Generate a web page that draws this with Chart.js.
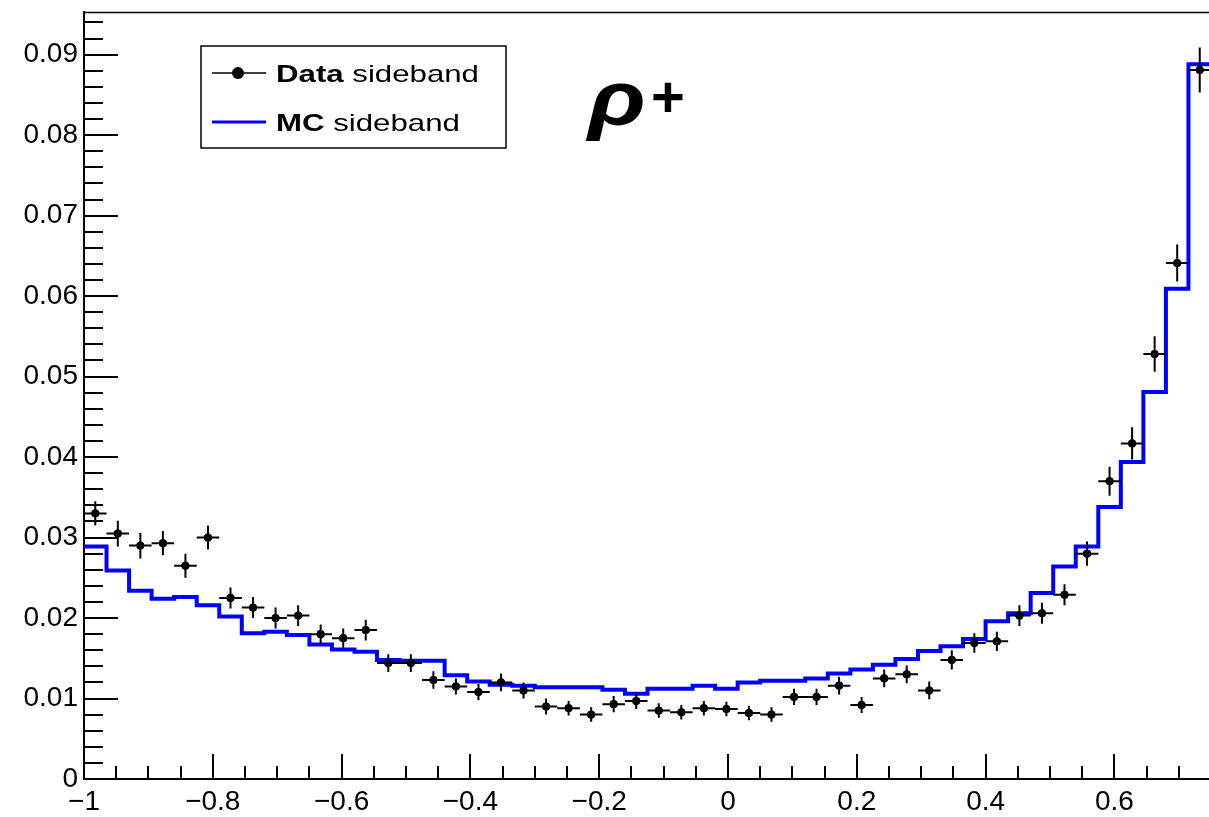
<!DOCTYPE html>
<html>
<head>
<meta charset="utf-8">
<title>rho+ sideband</title>
<script src="https://cdn.jsdelivr.net/npm/chart.js@4.4.0/dist/chart.umd.min.js"></script>
<style>
  html, body { margin: 0; padding: 0; background: #fff; overflow: hidden; }
</style>
</head>
<body>
<canvas id="myChart" width="1240" height="817"></canvas>
<script>
// bin edges (50 bins from -1 to 0.75)
const binEdges = [
  -1, -0.965, -0.93, -0.895, -0.86, -0.825, -0.79, -0.755, -0.72, -0.685,
  -0.65, -0.615, -0.58, -0.545, -0.51, -0.475, -0.44, -0.405, -0.37, -0.335,
  -0.3, -0.265, -0.23, -0.195, -0.16, -0.125, -0.09, -0.055, -0.02, 0.015,
  0.05, 0.085, 0.12, 0.155, 0.19, 0.225, 0.26, 0.295, 0.33, 0.365,
  0.4, 0.435, 0.47, 0.505, 0.54, 0.575, 0.61, 0.645, 0.68, 0.715, 0.75
];

// data sideband, per bin
const dataVals = [
  0.0330, 0.0305, 0.0290, 0.0293, 0.0265, 0.0300, 0.0225, 0.0213, 0.0200, 0.0203,
  0.0180, 0.0175, 0.0185, 0.0144, 0.0144, 0.0123, 0.0115, 0.0108, 0.0120, 0.0110,
  0.0090, 0.0088, 0.0080, 0.0093, 0.0097, 0.0085, 0.0083, 0.0088, 0.0087, 0.0082,
  0.0080, 0.0102, 0.0102, 0.0116, 0.0092, 0.0125, 0.0130, 0.0110, 0.0148, 0.0169,
  0.0171, 0.0203, 0.0206, 0.0229, 0.0280, 0.0370, 0.0417, 0.0528, 0.0641, 0.0881
];
const dataErrs = [
  0.0015, 0.0016, 0.0016, 0.0015, 0.0015, 0.0015, 0.0013, 0.0013, 0.0013, 0.0013,
  0.0012, 0.0012, 0.0013, 0.0011, 0.0011, 0.0011, 0.0010, 0.0010, 0.0011, 0.0010,
  0.0010, 0.0009, 0.0009, 0.0010, 0.0010, 0.0009, 0.0009, 0.0009, 0.0009, 0.0009,
  0.0009, 0.0010, 0.0010, 0.0011, 0.0010, 0.0011, 0.0011, 0.0011, 0.0012, 0.0012,
  0.0012, 0.0013, 0.0013, 0.0013, 0.0015, 0.0018, 0.0020, 0.0022, 0.0023, 0.0028
];

// MC sideband, per bin
const mcVals = [
  0.0289, 0.0259, 0.0234, 0.0224, 0.0226, 0.0216, 0.0202, 0.0181, 0.0183, 0.0179,
  0.0167, 0.0161, 0.0158, 0.0148, 0.0147, 0.0147, 0.0129, 0.0121, 0.0117, 0.0116,
  0.0114, 0.0114, 0.0114, 0.0111, 0.0106, 0.0112, 0.0112, 0.0116, 0.0112, 0.0120,
  0.0122, 0.0122, 0.0125, 0.0131, 0.0136, 0.0142, 0.0149, 0.0159, 0.0165, 0.0174,
  0.0196, 0.0206, 0.0231, 0.0264, 0.0289, 0.0338, 0.0394, 0.0481, 0.0609, 0.0888
];

const xTickValues = [-1, -0.8, -0.6, -0.4, -0.2, 0, 0.2, 0.4, 0.6];
const yTickValues = [0, 0.01, 0.02, 0.03, 0.04, 0.05, 0.06, 0.07, 0.08, 0.09];

const FONT = '"Liberation Sans", Arial, Helvetica, sans-serif';

function fmt(v) {
  if (v < 0) return '\u2212' + String(-v);
  return String(v);
}

// frame, inside ticks, error bars, legend and the rho+ label
const rootFrame = {
  id: 'rootFrame',
  afterDatasetsDraw(chart) {
    const ctx = chart.ctx;
    const area = chart.chartArea;
    const xs = chart.scales.x;
    const ys = chart.scales.y;
    ctx.save();

    // error bars
    ctx.strokeStyle = '#000';
    ctx.lineWidth = 2;
    ctx.beginPath();
    for (let i = 0; i < dataVals.length; i++) {
      const cx = xs.getPixelForValue((binEdges[i] + binEdges[i + 1]) / 2);
      const cy = ys.getPixelForValue(dataVals[i]);
      ctx.moveTo(xs.getPixelForValue(binEdges[i]), cy);
      ctx.lineTo(xs.getPixelForValue(binEdges[i + 1]), cy);
      ctx.moveTo(cx, ys.getPixelForValue(dataVals[i] - dataErrs[i]));
      ctx.lineTo(cx, ys.getPixelForValue(dataVals[i] + dataErrs[i]));
    }
    ctx.stroke();

    // top of the frame
    ctx.lineWidth = 1.5;
    ctx.beginPath();
    ctx.moveTo(area.left, area.top + 0.5);
    ctx.lineTo(area.right, area.top + 0.5);
    ctx.stroke();

    // ticks drawn inside the frame
    ctx.lineWidth = 2;
    ctx.beginPath();
    for (let k = 0; k <= 47; k++) {
      const v = k * 0.002;
      const py = Math.round(ys.getPixelForValue(v));
      const len = k % 5 === 0 ? 34 : 19;
      ctx.moveTo(area.left, py);
      ctx.lineTo(area.left + len, py);
    }
    for (let k = 0; k <= 35; k++) {
      const v = -1 + k * 0.05;
      const px = Math.round(xs.getPixelForValue(v));
      const len = k % 4 === 0 ? 25 : 13;
      ctx.moveTo(px, area.bottom);
      ctx.lineTo(px, area.bottom - len);
    }
    ctx.stroke();

    // legend
    ctx.fillStyle = '#fff';
    ctx.fillRect(201, 46, 305, 102);
    ctx.strokeStyle = '#000';
    ctx.lineWidth = 1.5;
    ctx.strokeRect(201, 46, 305, 102);

    ctx.lineWidth = 1.5;
    ctx.beginPath();
    ctx.moveTo(212, 73);
    ctx.lineTo(266, 73);
    ctx.stroke();
    ctx.fillStyle = '#000';
    ctx.beginPath();
    ctx.arc(238, 73, 6, 0, Math.PI * 2);
    ctx.fill();

    ctx.strokeStyle = chart.data.datasets[1].borderColor;
    ctx.lineWidth = 3;
    ctx.beginPath();
    ctx.moveTo(212, 122);
    ctx.lineTo(266, 122);
    ctx.stroke();

    const rows = [['Data', ' sideband', 82], ['MC', ' sideband', 131]];
    ctx.fillStyle = '#000';
    ctx.textBaseline = 'alphabetic';
    ctx.textAlign = 'left';
    rows.forEach((r) => {
      ctx.save();
      ctx.translate(276, r[2]);
      ctx.scale(1.3, 1);
      ctx.font = 'bold 24px ' + FONT;
      ctx.fillText(r[0], 0, 0);
      const w = ctx.measureText(r[0]).width;
      ctx.font = '24px ' + FONT;
      ctx.fillText(r[1], w, 0);
      ctx.restore();
    });

    // rho+
    ctx.save();
    ctx.translate(588, 125);
    ctx.scale(1.22, 1);
    ctx.font = 'italic bold 78px ' + FONT;
    ctx.fillText('\u03c1', 0, 0);
    ctx.restore();
    ctx.font = 'bold 58px ' + FONT;
    ctx.fillText('+', 651, 117);

    ctx.restore();
  }
};

function draw_chart() {
  const tickFont = { family: FONT, size: 28 };

  const data = {
    datasets: [
      {
        label: 'Data sideband',
        data: dataVals.map((v, i) => ({ x: (binEdges[i] + binEdges[i + 1]) / 2, y: v })),
        backgroundColor: '#000',
        borderColor: '#000',
        pointRadius: 3.8,
        pointHoverRadius: 3.8,
        showLine: false,
      },
      {
        label: 'MC sideband',
        type: 'line',
        data: binEdges.map((e, i) => ({ x: e, y: mcVals[Math.min(i, mcVals.length - 1)] })),
        borderColor: '#0000ff',
        borderWidth: 4,
        stepped: 'before',
        pointRadius: 0,
        fill: false,
      },
    ],
  };

  const config = {
    type: 'scatter',
    data: data,
    options: {
      responsive: false,
      animation: false,
      layout: { padding: { top: 12, right: 29, left: 0, bottom: 0 } },
      plugins: {
        legend: { display: false },
        tooltip: { enabled: false },
      },
      scales: {
        x: {
          type: 'linear',
          min: -1,
          max: 0.75,
          grid: { display: false, drawTicks: false },
          border: { display: true, color: '#000', width: 2 },
          afterBuildTicks: (s) => { s.ticks = xTickValues.map((v) => ({ value: v })); },
          afterFit: (s) => { s.height = 38; s.paddingLeft = 0; s.paddingRight = 0; },
          ticks: {
            font: tickFont,
            color: '#000',
            padding: 6,
            maxRotation: 0,
            autoSkip: false,
            callback: (v) => fmt(v),
          },
        },
        y: {
          type: 'linear',
          min: 0,
          max: 0.0953,
          grid: { display: false, drawTicks: false },
          border: { display: true, color: '#000', width: 2 },
          afterBuildTicks: (s) => { s.ticks = yTickValues.map((v) => ({ value: v })); },
          afterFit: (s) => { s.width = 84; s.paddingTop = 0; s.paddingBottom = 0; },
          ticks: {
            font: tickFont,
            color: '#000',
            padding: 6,
            autoSkip: false,
            callback: (v) => fmt(v),
          },
        },
      },
    },
    plugins: [rootFrame],
  };

  new Chart(document.getElementById('myChart'), config);
}

draw_chart();
</script>
</body>
</html>
